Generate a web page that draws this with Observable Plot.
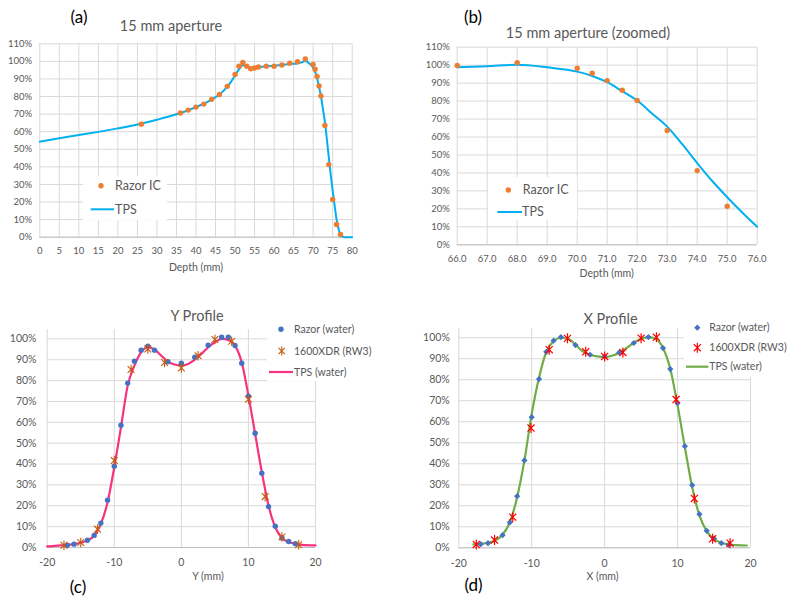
<!DOCTYPE html>
<html><head><meta charset="utf-8">
<script src="https://cdn.jsdelivr.net/npm/d3@7"></script>
<script src="https://cdn.jsdelivr.net/npm/@observablehq/plot@0.6"></script>
<style>
body{margin:0;background:#fff;}
#root{position:relative;width:787px;height:598px;overflow:hidden;background:#fff;font-family:Lato,"Open Sans",sans-serif;}
.pnl{position:absolute;}
#ov{position:absolute;left:0;top:0;pointer-events:none;}
</style></head>
<body><div id="root"></div>
<script>
// ---------- Data ----------
// (a)/(b) depth dose, TPS
const tpsDepth = [0,5,10,15,20,25,30,35,38,40,42,44,46,48,49,50,51,52,53,54,56,58,60,62,64,66,67,68,69,70,70.5,71,71.5,72,72.5,73,73.5,74,74.5,75,75.5,76,76.5,77,77.5,78,80];
const tpsDose  = [54.3,56.3,58.1,59.9,61.9,64.1,66.8,69.9,72.2,74.0,75.9,78.3,81.2,85.5,88.5,92,95.5,97.8,97.2,96.5,96.8,97.2,97.5,97.9,98.5,98.8,99.4,100.2,98.8,96.4,94,90.5,85.5,80.3,73,65.8,56,45.5,35.5,26.5,18,10,5,1,0.4,0,0];
// Razor IC measurements
const razorDepth = [26,36,38,40,42,44,46,48,50,51,52,53,54,55,56,58,60,62,64,66,68,70,70.5,71,71.5,72,73,74,75,76,77];
const razorDose  = [64.3,70.6,72.3,74,75.7,78.4,81.2,85.8,92.6,97.3,99.4,97.3,95.8,96.2,96.8,97.3,97.3,97.9,99,99.8,101.4,98.3,95.5,91.4,86,80.3,63.6,41.3,21.5,7.2,1.5];

// (c) Y profile
const yRazorPos = [-17,-16,-14,-13,-12,-11,-10,-9,-8,-7,-6,-5,-4,-2,0,2,4,6,7,8,9,10,11,12,13,14,15,16,17];
const yRazorVal = [1.1,1.6,3.5,5.8,11.7,22.7,39,58.6,78.8,89.3,94.6,96.5,94.6,89.1,88.3,91.2,97,100.8,100.8,96.8,88.3,72.5,54.8,35.6,19.6,10.2,4.6,2.9,1.8];
const yXdrPos = [-17.5,-15,-12.5,-10,-7.5,-5,-2.5,0,2.5,5,7.5,10,12.5,15,17.5];
const yXdrVal = [1.1,2.4,8.8,41.7,85.3,95.2,88.7,86.1,91.9,99.7,98.9,71.1,24.4,5.0,1.3];
const yTpsPos = [-20,-18,-16,-14,-13,-12,-11,-10,-9,-8,-7,-6,-5,-4,-3,-2,-1,0,1,2,3,4,5,6,7,8,9,10,11,12,13,14,15,16,17,18,20];
const yTpsVal = [0.5,1.0,1.6,3.4,5.6,11.3,21.7,38.5,57.7,77.6,87.2,93.6,96,94.9,92,89.1,87.7,87.2,88,90.1,92.8,96,98.4,100,99.5,96.8,88.8,72.8,54.5,36.1,20.1,9.7,4.6,2.6,1.8,1.3,1.0];

// (d) X profile
const xRazorPos = [-17,-16,-14,-13,-12,-11,-10,-9,-8,-7,-6,-4,-2,0,2,4,6,8,9,10,11,12,13,14,15,16,17];
const xRazorVal = [1.7,2.2,6.0,12.1,24.6,41.6,62.2,80.3,93.3,98.6,100.3,96.5,91.9,91.1,93,97.5,100.3,95.1,85.1,68.9,48.4,29.8,16,8.1,4.4,2.2,1.4];
const xXdrPos = [-17.6,-15.1,-12.6,-10.1,-7.6,-5.1,-2.6,0,2.5,5,7.1,9.8,12.3,14.8,17.2];
const xXdrVal = [1.6,3.7,14.6,57,94.3,99.7,93.3,91.1,93,99.8,100.2,70.6,23.5,4.3,2.2];
const xTpsPos = [-18,-17,-16,-15,-14,-13,-12,-11,-10,-9,-8,-7,-6,-5,-4,-3,-2,-1,0,1,2,3,4,5,6,7,8,9,10,11,12,13,14,15,16,17,18,19.5];
const xTpsVal = [1.6,1.9,2.4,3.5,6.2,12.2,24.1,41.6,63.8,81,93.2,98.4,100,99.5,96.7,93.5,91.9,91.1,90.8,91.4,92.9,95.1,97.6,99.5,100.3,99.5,95.1,85.2,67.8,47.9,28.9,15.4,7.8,4.1,2.4,1.6,1.3,1.1];

// Ticks
const aXTicks = [0,5,10,15,20,25,30,35,40,45,50,55,60,65,70,75,80];
const pctTicks110 = [0,10,20,30,40,50,60,70,80,90,100,110];
const bXTicks = [66,67,68,69,70,71,72,73,74,75,76];
const profXTicks = [-20,-10,0,10,20];
const pctTicks100 = [0,10,20,30,40,50,60,70,80,90,100];

const zip = (xs, ys) => xs.map((x, i) => ({x, y: ys[i]}));
const tps = zip(tpsDepth, tpsDose);
const razor = zip(razorDepth, razorDose);

// ---------- Colors ----------
const GRID = "#d9d9d9", AXIS = "#bfbfbf", TXT = "#595959";
const ORANGE = "#ED7D31", CYAN = "#00B0F0", BLUE = "#4472C4", PINK = "#F7327F", BROWN = "#C55A11", RED = "#FF0000", GREEN = "#70AD47";

// Excel-style star marker: X plus vertical bar
const star = {
  draw(context, size) {
    const r = Math.sqrt(size / Math.PI), d = r * 0.7071;
    context.moveTo(0, -r); context.lineTo(0, r);
    context.moveTo(-d, -d); context.lineTo(d, d);
    context.moveTo(-d, d); context.lineTo(d, -d);
  }
};

const root = document.getElementById("root");
const pct = d => d + "%";

function panel(cfg) {
  const chart = Plot.plot({
    width: cfg.width, height: cfg.height,
    marginLeft: cfg.mL, marginRight: cfg.mR, marginTop: cfg.mT, marginBottom: cfg.mB,
    style: {fontFamily: "Lato, 'Open Sans', sans-serif", fontSize: "9.5px", color: TXT, background: "transparent", overflow: "visible"},
    x: {domain: cfg.xDomain, label: null},
    y: {domain: cfg.yDomain, label: null},
    marks: [
      Plot.gridX(cfg.xTicks, {stroke: GRID, strokeOpacity: 1}),
      Plot.gridY(cfg.yTicks, {stroke: GRID, strokeOpacity: 1}),
      Plot.ruleY([0], {stroke: AXIS, strokeWidth: 1}),
      Plot.axisX(cfg.xTicks, {tickSize: 0, tickPadding: cfg.xPad, tickFormat: cfg.xFmt, label: null, fontSize: cfg.tickFont}),
      Plot.axisY(cfg.yTicks, {tickSize: 0, tickPadding: cfg.yPad, tickFormat: pct, label: null, fontSize: cfg.tickFont}),
      ...cfg.marks
    ]
  });
  const div = document.createElement("div");
  div.className = "pnl";
  div.style.left = cfg.left + "px";
  div.style.top = cfg.top + "px";
  div.appendChild(chart);
  root.appendChild(div);
}

// (a)
panel({
  left: 0, top: 0, width: 390, height: 280, mL: 39.3, mR: 38.3, mT: 43.3, mB: 43.3,
  xDomain: [0, 80], yDomain: [0, 110], xTicks: aXTicks, yTicks: pctTicks110,
  xFmt: d => String(d), xPad: 10.5, yPad: 7.6, tickFont: "9.5px",
  marks: [
    Plot.line(tps, {x: "x", y: "y", stroke: CYAN, strokeWidth: 2, curve: "monotone-x"}),
    Plot.dot(razor, {x: "x", y: "y", r: 2.7, fill: ORANGE})
  ]
});

// (b)
panel({
  left: 390, top: 0, width: 397, height: 290, mL: 66.7, mR: 30.3, mT: 46.7, mB: 45.7,
  xDomain: [66, 76], yDomain: [0, 110], xTicks: bXTicks, yTicks: pctTicks110,
  xFmt: d => d.toFixed(1), xPad: 10.5, yPad: 7.4, tickFont: "9.5px",
  marks: [
    Plot.line(tps.filter(d => d.x >= 66 && d.x <= 76), {x: "x", y: "y", stroke: CYAN, strokeWidth: 2, curve: "monotone-x"}),
    Plot.dot(razor.filter(d => d.x >= 66 && d.x <= 75), {x: "x", y: "y", r: 2.7, fill: ORANGE})
  ]
});

// (c)
panel({
  left: 0, top: 300, width: 390, height: 298, mL: 46.7, mR: 75, mT: 29, mB: 51,
  xDomain: [-20, 20], yDomain: [0, 104.5], xTicks: profXTicks, yTicks: pctTicks100,
  xFmt: d => String(d), xPad: 10.8, yPad: 10.7, tickFont: "10.5px",
  marks: [
    Plot.line(zip(yTpsPos, yTpsVal), {x: "x", y: "y", stroke: PINK, strokeWidth: 2.2, curve: "monotone-x"}),
    Plot.dot(zip(yRazorPos, yRazorVal), {x: "x", y: "y", r: 2.7, fill: BLUE}),
    Plot.dot(zip(yXdrPos, yXdrVal), {x: "x", y: "y", r: 4.8, symbol: star, stroke: BROWN, strokeWidth: 1.1})
  ]
});

// (d)
panel({
  left: 390, top: 300, width: 397, height: 298, mL: 68.3, mR: 37, mT: 28, mB: 50.7,
  xDomain: [-20, 20], yDomain: [0, 104.4], xTicks: profXTicks, yTicks: pctTicks100,
  xFmt: d => String(d), xPad: 11.4, yPad: 9, tickFont: "10.5px",
  marks: [
    Plot.line(zip(xTpsPos, xTpsVal), {x: "x", y: "y", stroke: GREEN, strokeWidth: 2.2, curve: "monotone-x"}),
    Plot.dot(zip(xRazorPos, xRazorVal), {x: "x", y: "y", r: 2.8, symbol: "diamond2", fill: BLUE}),
    Plot.dot(zip(xXdrPos, xXdrVal), {x: "x", y: "y", r: 5, symbol: star, stroke: RED, strokeWidth: 1.2})
  ]
});

// ---------- Overlay: titles, labels, legends ----------
const ov = d3.select(root).append("svg").attr("id", "ov").attr("width", 787).attr("height", 598)
  .style("font-family", "Lato, 'Open Sans', sans-serif");

function text(x, y, s, size, color, anchor = "middle") {
  ov.append("text").attr("x", x).attr("y", y).attr("dy", "0.35em")
    .attr("text-anchor", anchor).attr("font-size", size).attr("fill", color).text(s);
}
// panel letters
text(79, 17, "(a)", 17, "#000");
text(473, 17, "(b)", 17, "#000");
text(78, 587, "(c)", 17, "#000");
text(473.5, 585, "(d)", 17, "#000");
// titles
text(171, 26, "15 mm aperture", 14.5, TXT);
text(588, 33, "15 mm aperture (zoomed)", 14.5, TXT);
text(197, 316, "Y Profile", 14.5, TXT);
text(610.5, 319, "X Profile", 14.5, TXT);
// axis titles
text(196, 267, "Depth (mm)", 10.5, TXT);
text(606.7, 273.3, "Depth (mm)", 10.5, TXT);
text(208, 576.7, "Y (mm)", 10.5, TXT);
text(602.5, 576.7, "X (mm)", 10.5, TXT);

function box(x0, y0, x1, y1) {
  ov.append("rect").attr("x", x0).attr("y", y0).attr("width", x1 - x0).attr("height", y1 - y0).attr("fill", "#fff");
}
function sym(type, cx, cy, r, color, sw) {
  const map = {circle: d3.symbolCircle, star: star, diamond2: d3.symbolDiamond2};
  const p = ov.append("path").attr("transform", `translate(${cx},${cy})`)
    .attr("d", d3.symbol(map[type], r * r * Math.PI)());
  if (type === "star") p.attr("fill", "none").attr("stroke", color).attr("stroke-width", sw);
  else p.attr("fill", color);
}
function lline(x0, x1, y, color, w) {
  ov.append("line").attr("x1", x0).attr("x2", x1).attr("y1", y).attr("y2", y).attr("stroke", color).attr("stroke-width", w);
}
// legend (a)
box(83, 175.7, 167, 220);
sym("circle", 101, 185.7, 2.7, ORANGE);
text(115, 185.7, "Razor IC", 12.5, TXT, "start");
lline(90.7, 114, 209.3, CYAN, 2);
text(115, 209.3, "TPS", 12.5, TXT, "start");
// legend (b)
box(488, 177, 577, 220);
sym("circle", 508.3, 190, 2.7, ORANGE);
text(522.7, 190, "Razor IC", 12.5, TXT, "start");
lline(497.3, 522, 212, CYAN, 2);
text(522, 212, "TPS", 12.5, TXT, "start");
// legend (c)
box(267, 320, 367, 381);
sym("circle", 281, 329.3, 2.7, BLUE);
text(294, 329.3, "Razor (water)", 10.5, TXT, "start");
sym("star", 281.7, 351, 4.5, BROWN, 1.1);
text(294, 351, "1600XDR (RW3)", 10.5, TXT, "start");
lline(269, 293, 372, PINK, 2.2);
text(294, 372, "TPS (water)", 10.5, TXT, "start");
// legend (d)
box(684, 320, 787, 377);
sym("diamond2", 697.3, 327.7, 2.8, BLUE);
text(709.3, 327.7, "Razor (water)", 10.5, TXT, "start");
sym("star", 697.3, 347.7, 5, RED, 1.2);
text(709.3, 347.7, "1600XDR (RW3)", 10.5, TXT, "start");
lline(686, 708.3, 366.7, GREEN, 2.2);
text(709.3, 366.7, "TPS (water)", 10.5, TXT, "start");
</script>
</body></html>
